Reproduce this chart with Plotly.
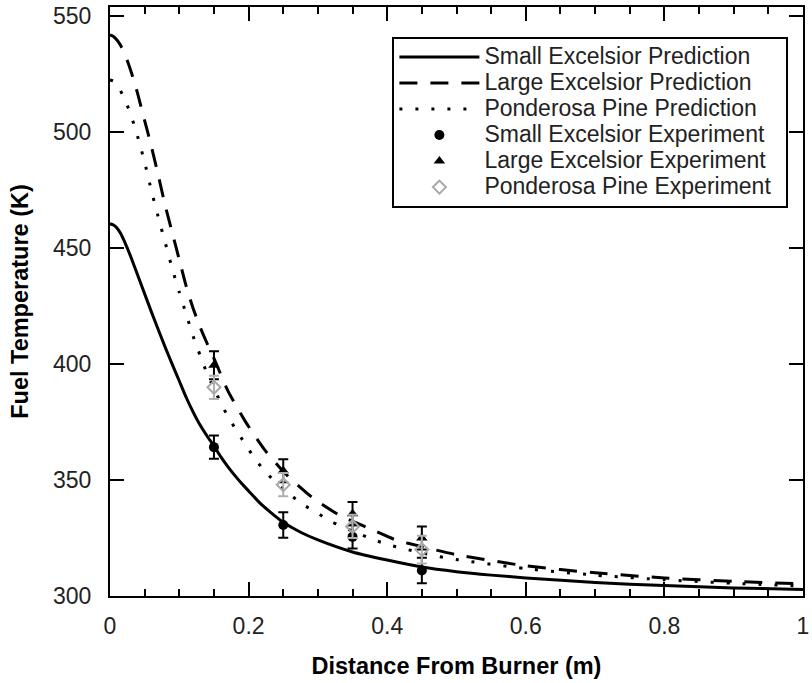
import plotly.graph_objects as go

# Model predictions: fuel temperature (K) vs distance from burner (m)
x_small_pred = [0, 0.005, 0.01, 0.015, 0.02, 0.025, 0.03, 0.035, 0.04, 0.05, 0.06, 0.07,
                0.08, 0.09, 0.10, 0.11, 0.12, 0.13, 0.14, 0.15, 0.16, 0.17, 0.18, 0.19,
                0.20, 0.215, 0.23, 0.25, 0.275, 0.30, 0.35, 0.40, 0.45, 0.50, 0.55, 0.60,
                0.70, 0.80, 0.90, 1.0]
y_small_pred = [460.5, 460.0, 458.7, 456.5, 453.5, 450.0, 446.3, 442.3, 438.3, 430.3, 422.3,
                414.6, 407, 399.8, 392.7, 385.6, 379.3, 373.7, 369, 364.7, 360, 355.8, 352,
                348.5, 345.3, 340.5, 336.5, 331.8, 327.5, 324.2, 319, 315.5, 312.5, 310.5,
                309, 307.8, 305.8, 304.5, 303.5, 302.8]

x_large_pred = [0, 0.005, 0.01, 0.015, 0.02, 0.025, 0.03, 0.035, 0.04, 0.05, 0.06, 0.07,
                0.08, 0.09, 0.10, 0.11, 0.12, 0.13, 0.14, 0.15, 0.17, 0.195, 0.2235, 0.255,
                0.294, 0.333, 0.373, 0.413, 0.45, 0.50, 0.60, 0.70, 0.80, 0.90, 1.0]
y_large_pred = [542, 541.3, 539.8, 537.6, 534.5, 530.8, 526.5, 521.8, 516.5, 505, 493.5,
                481, 468, 456.5, 445, 433.5, 424, 416, 409, 402.5, 388.6, 375.4, 362.9,
                352.2, 342, 334.5, 329.3, 324.1, 321.3, 317.8, 313, 310, 307.8, 306.3, 305.2]

x_pine_pred = [0, 0.005, 0.01, 0.015, 0.02, 0.025, 0.03, 0.035, 0.04, 0.05, 0.06, 0.07,
               0.08, 0.09, 0.10, 0.11, 0.12, 0.13, 0.14, 0.15, 0.16, 0.17, 0.18, 0.196,
               0.21, 0.226, 0.25, 0.28, 0.30, 0.32, 0.35, 0.38, 0.40, 0.425, 0.45, 0.475,
               0.50, 0.60, 0.70, 0.80, 0.90, 1.0]
y_pine_pred = [522.5, 522, 520.5, 518, 515, 511.5, 507.5, 503, 498, 487, 474.5, 463, 452,
               441, 431, 421.5, 412, 403.8, 396, 389.5, 383.2, 377.5, 372.6, 365.1, 358.8,
               353, 346, 339.2, 335.6, 332, 328, 324.3, 322.3, 320.3, 318.6, 317, 315.7,
               311.8, 309, 307, 305.5, 304.3]

# Measurements with error bars
x_exp = [0.15, 0.25, 0.35, 0.45]
y_small_exp = [364.2, 330.6, 325.5, 311]
e_small_exp = [5, 5.5, 5, 5.5]
y_large_exp = [399.5, 354, 335.5, 325]
e_large_exp = [6, 5, 5, 5]
y_pine_exp = [390, 348, 330, 320]
e_pine_exp = [5, 5, 5, 6]

FONT = "Liberation Sans, Arial, sans-serif"


def entry(label):
    # larger legend text while keeping compact row spacing; trailing space pads the box
    return f'<span style="font-size:23px">{label}</span>\u00a0\u00a0'


fig = go.Figure()

fig.add_trace(go.Scatter(x=x_small_pred, y=y_small_pred, mode="lines",
                         name=entry("Small Excelsior Prediction"),
                         line=dict(color="black", width=3, shape="spline", smoothing=0.6)))
fig.add_trace(go.Scatter(x=x_large_pred, y=y_large_pred, mode="lines",
                         name=entry("Large Excelsior Prediction"),
                         line=dict(color="black", width=3, dash="18px,13px",
                                   shape="spline", smoothing=0.6)))
fig.add_trace(go.Scatter(x=x_pine_pred, y=y_pine_pred, mode="lines",
                         name=entry("Ponderosa Pine Prediction"),
                         line=dict(color="black", width=3, dash="3px,13px",
                                   shape="spline", smoothing=0.6)))

fig.add_trace(go.Scatter(x=x_exp, y=y_small_exp, mode="markers",
                         name=entry("Small Excelsior Experiment"),
                         marker=dict(symbol="circle", size=10, color="black"),
                         error_y=dict(type="data", array=e_small_exp, color="black",
                                      thickness=2, width=5)))
fig.add_trace(go.Scatter(x=x_exp, y=y_large_exp, mode="markers",
                         name=entry("Large Excelsior Experiment"),
                         marker=dict(symbol="triangle-up", size=10, color="black"),
                         error_y=dict(type="data", array=e_large_exp, color="black",
                                      thickness=2, width=5)))
fig.add_trace(go.Scatter(x=x_exp, y=y_pine_exp, mode="markers",
                         name=entry("Ponderosa Pine Experiment"),
                         marker=dict(symbol="diamond-open", size=10, color="#a8a8a8",
                                     line=dict(width=2, color="#a8a8a8")),
                         error_y=dict(type="data", array=e_pine_exp, color="#b0b0b0",
                                      thickness=2, width=5)))

fig.update_layout(
    width=812, height=683,
    margin=dict(l=110, r=3, t=7, b=87),
    paper_bgcolor="white", plot_bgcolor="white",
    font=dict(family=FONT, color="black"),
    showlegend=True,
    legend=dict(x=0.4075, y=0.949, xanchor="left", yanchor="top",
                bordercolor="black", borderwidth=2, bgcolor="white",
                font=dict(family=FONT, size=17.7, color="#222"),
                itemwidth=80, tracegroupgap=0),
    xaxis=dict(range=[0, 1], tickvals=[0, 0.2, 0.4, 0.6, 0.8, 1],
               ticktext=["0", "0.2", "0.4", "0.6", "0.8", "1"],
               ticks="inside", ticklen=14, tickwidth=2, tickcolor="black",
               minor=dict(dtick=0.05, ticks="inside", ticklen=7, tickwidth=2,
                          tickcolor="black"),
               showline=True, linecolor="black", linewidth=2, mirror="allticks",
               showgrid=False, zeroline=False, ticklabeloverflow="allow",
               ticklabelstandoff=8,
               tickfont=dict(size=23, color="#222"),
               title=dict(text="<b>Distance From Burner (m)</b>",
                          font=dict(size=23.5, color="black"), standoff=20)),
    yaxis=dict(range=[300, 554], tickvals=[300, 350, 400, 450, 500, 550],
               ticks="inside", ticklen=14, tickwidth=2, tickcolor="black",
               showline=True, linecolor="black", linewidth=2, mirror="allticks",
               showgrid=False, zeroline=False, ticklabelstandoff=12,
               tickfont=dict(size=23, color="#222"),
               title=dict(text="<b>Fuel Temperature (K)</b>",
                          font=dict(size=23.5, color="black"), standoff=18)),
)

fig.write_html("out.html")
